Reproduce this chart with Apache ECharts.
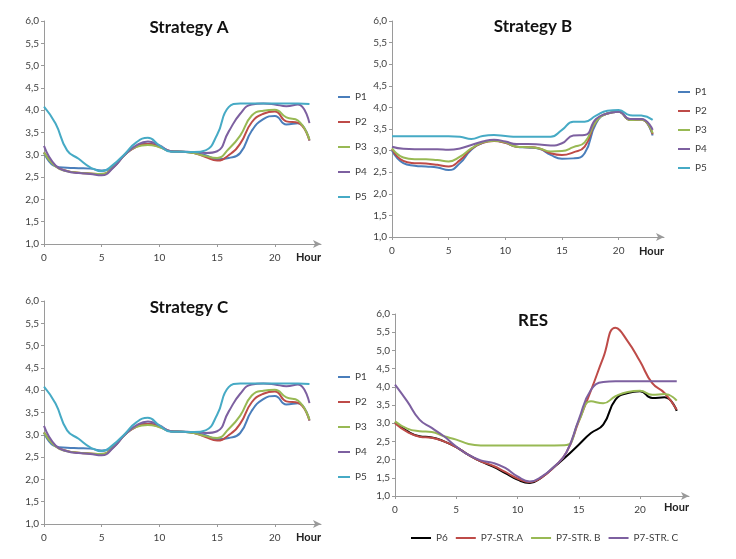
<!DOCTYPE html>
<html>
<head>
<meta charset="utf-8">
<script src="https://cdn.jsdelivr.net/npm/echarts@6/dist/echarts.min.js"></script>
<style>
  html, body { margin: 0; padding: 0; background: #fff; }
  #chart { width: 736px; height: 559px; }
</style>
</head>
<body>
<div id="chart"></div>
<script>
// hours of the day
const hours = [0, 1, 2, 3, 4, 5, 6, 7, 8, 9, 10, 11, 12, 13, 14, 15, 16, 17, 18, 19, 20, 21, 22, 23];
const xTicks = [0, 5, 10, 15, 20];

// Strategy A
const aP1 = [3.05, 2.74, 2.71, 2.70, 2.69, 2.65, 2.74, 3.00, 3.19, 3.25, 3.19, 3.08, 3.07, 3.04, 2.99, 2.90, 2.93, 3.04, 3.54, 3.80, 3.87, 3.68, 3.71, 3.32];
const aP2 = [3.05, 2.75, 2.64, 2.60, 2.58, 2.57, 2.72, 3.00, 3.18, 3.24, 3.18, 3.08, 3.07, 3.04, 2.95, 2.87, 2.99, 3.25, 3.73, 3.92, 3.97, 3.75, 3.72, 3.32];
const aP3 = [3.05, 2.74, 2.63, 2.60, 2.58, 2.57, 2.72, 3.00, 3.18, 3.22, 3.17, 3.08, 3.07, 3.04, 2.97, 2.93, 3.13, 3.43, 3.88, 3.99, 4.01, 3.84, 3.77, 3.34];
const aP4 = [3.20, 2.76, 2.63, 2.59, 2.57, 2.54, 2.71, 3.00, 3.21, 3.30, 3.21, 3.08, 3.07, 3.06, 3.04, 3.08, 3.52, 3.92, 4.13, 4.15, 4.13, 4.09, 4.13, 3.71];
const aP5 = [4.08, 3.70, 3.10, 2.91, 2.72, 2.63, 2.78, 3.02, 3.28, 3.38, 3.21, 3.07, 3.07, 3.06, 3.10, 3.45, 4.07, 4.15, 4.15, 4.15, 4.15, 4.15, 4.15, 4.14];

// Strategy B
const bP1 = [3.00, 2.71, 2.65, 2.63, 2.61, 2.55, 2.71, 3.02, 3.18, 3.23, 3.18, 3.09, 3.07, 3.04, 2.90, 2.81, 2.82, 2.94, 3.63, 3.86, 3.90, 3.71, 3.72, 3.35];
const bP2 = [3.04, 2.76, 2.71, 2.70, 2.67, 2.63, 2.78, 3.04, 3.18, 3.22, 3.18, 3.09, 3.08, 3.05, 2.94, 2.90, 2.96, 3.09, 3.67, 3.86, 3.90, 3.71, 3.72, 3.38];
const bP3 = [3.05, 2.84, 2.80, 2.80, 2.78, 2.75, 2.86, 3.05, 3.19, 3.23, 3.19, 3.09, 3.08, 3.05, 2.98, 2.99, 3.08, 3.19, 3.67, 3.86, 3.90, 3.71, 3.72, 3.40];
const bP4 = [3.09, 3.04, 3.03, 3.03, 3.03, 3.02, 3.05, 3.13, 3.21, 3.25, 3.21, 3.15, 3.15, 3.14, 3.12, 3.17, 3.35, 3.36, 3.73, 3.86, 3.90, 3.73, 3.73, 3.48];
const bP5 = [3.33, 3.33, 3.33, 3.33, 3.33, 3.33, 3.32, 3.27, 3.34, 3.36, 3.34, 3.32, 3.32, 3.32, 3.32, 3.48, 3.67, 3.67, 3.81, 3.92, 3.94, 3.82, 3.81, 3.71];

// Strategy C
const cP1 = [3.05, 2.74, 2.71, 2.70, 2.69, 2.65, 2.74, 3.00, 3.19, 3.25, 3.19, 3.08, 3.07, 3.04, 2.99, 2.90, 2.93, 3.04, 3.54, 3.80, 3.87, 3.68, 3.71, 3.32];
const cP2 = [3.05, 2.75, 2.64, 2.60, 2.58, 2.57, 2.72, 3.00, 3.18, 3.24, 3.18, 3.08, 3.07, 3.04, 2.95, 2.87, 2.99, 3.25, 3.73, 3.92, 3.97, 3.75, 3.72, 3.32];
const cP3 = [3.05, 2.74, 2.63, 2.60, 2.58, 2.57, 2.72, 3.00, 3.18, 3.22, 3.17, 3.08, 3.07, 3.04, 2.97, 2.93, 3.13, 3.43, 3.88, 3.99, 4.01, 3.84, 3.77, 3.34];
const cP4 = [3.20, 2.76, 2.63, 2.59, 2.57, 2.54, 2.71, 3.00, 3.21, 3.30, 3.21, 3.08, 3.07, 3.06, 3.04, 3.08, 3.52, 3.92, 4.13, 4.15, 4.13, 4.09, 4.13, 3.71];
const cP5 = [4.08, 3.70, 3.10, 2.91, 2.72, 2.63, 2.78, 3.02, 3.28, 3.38, 3.21, 3.07, 3.07, 3.06, 3.10, 3.45, 4.07, 4.15, 4.15, 4.15, 4.15, 4.15, 4.15, 4.14];

// RES
const resP6 = [3.03, 2.78, 2.64, 2.61, 2.50, 2.34, 2.13, 1.95, 1.81, 1.63, 1.45, 1.36, 1.52, 1.80, 2.09, 2.41, 2.73, 2.96, 3.65, 3.83, 3.88, 3.69, 3.71, 3.34];
const resStrA = [3.00, 2.76, 2.63, 2.60, 2.50, 2.34, 2.13, 1.95, 1.83, 1.66, 1.48, 1.38, 1.52, 1.80, 2.20, 3.05, 3.90, 4.80, 5.62, 5.25, 4.70, 4.10, 3.83, 3.37];
const resStrB = [3.05, 2.85, 2.78, 2.76, 2.64, 2.55, 2.43, 2.39, 2.39, 2.39, 2.39, 2.39, 2.39, 2.39, 2.40, 3.05, 3.60, 3.55, 3.74, 3.86, 3.89, 3.78, 3.80, 3.62];
const resStrC = [4.06, 3.60, 3.10, 2.87, 2.64, 2.36, 2.13, 1.98, 1.91, 1.77, 1.54, 1.40, 1.54, 1.81, 2.20, 3.10, 3.92, 4.13, 4.15, 4.15, 4.15, 4.15, 4.15, 4.15];

const pNames = ["P1", "P2", "P3", "P4", "P5"];
const resNames = ["P6", "P7-STR.A", "P7-STR. B", "P7-STR. C"];
const pColors = ["#4a7ebb", "#be4b48", "#98b954", "#7d60a0", "#46aac5"];
const resColors = ["#000000", "#be4b48", "#98b954", "#7d60a0"];

const FONT = "Lato";
const AXIS_COLOR = "#9a9a9a";
const TEXT_COLOR = "#404040";

function xAxis(gridIndex, namePad) {
  return {
    gridIndex: gridIndex,
    type: "value",
    min: 0,
    max: 24,
    interval: 5,
    name: "Hour",
    nameLocation: "end",
    nameGap: 0,
    nameTextStyle: {
      align: "right",
      verticalAlign: "top",
      fontWeight: "bold",
      fontSize: 11,
      fontFamily: FONT,
      color: "#222",
      padding: [namePad, 0, 0, 0]
    },
    axisLine: {
      onZero: false,
      symbol: ["none", "arrow"],
      symbolSize: [6, 8],
      lineStyle: { color: AXIS_COLOR }
    },
    axisTick: { show: true, length: 3, customValues: xTicks, lineStyle: { color: AXIS_COLOR } },
    axisLabel: { customValues: xTicks, margin: 9, fontSize: 10, fontFamily: FONT, color: TEXT_COLOR },
    splitLine: { show: false }
  };
}

function yAxis(gridIndex) {
  return {
    gridIndex: gridIndex,
    type: "value",
    min: 1,
    max: 6,
    interval: 0.5,
    axisLine: { show: true, lineStyle: { color: AXIS_COLOR } },
    axisTick: { show: true, length: 3, lineStyle: { color: AXIS_COLOR } },
    axisLabel: {
      margin: 5,
      fontSize: 10,
      fontFamily: FONT,
      color: TEXT_COLOR,
      formatter: function (v) {
        return v.toFixed(1).replace(".", ",");
      }
    },
    splitLine: { show: false }
  };
}

function lineSeries(name, values, color, idx) {
  return {
    name: name,
    type: "line",
    xAxisIndex: idx,
    yAxisIndex: idx,
    smooth: true,
    symbol: "none",
    lineStyle: { width: 2, color: color },
    itemStyle: { color: color },
    data: hours.map((h, i) => [h, values[i]])
  };
}

// legend marks drawn as short flat bars, like Excel's line keys
function legend(left, top, gap, names, orient, width) {
  return {
    orient: orient,
    left: left,
    top: top,
    itemGap: gap,
    itemWidth: width,
    itemHeight: 2,
    icon: "rect",
    data: names,
    textStyle: { fontSize: 10, fontFamily: FONT, color: TEXT_COLOR }
  };
}

function title(text, x, y) {
  return {
    text: text,
    left: x,
    top: y,
    textAlign: "center",
    padding: 0,
    textStyle: { fontSize: 17, fontWeight: "bold", fontFamily: FONT, color: "#111" }
  };
}

const seriesA = [aP1, aP2, aP3, aP4, aP5];
const seriesB = [bP1, bP2, bP3, bP4, bP5];
const seriesC = [cP1, cP2, cP3, cP4, cP5];
const seriesRes = [resP6, resStrA, resStrB, resStrC];

const series = [];
seriesA.forEach((v, i) => series.push(lineSeries(pNames[i], v, pColors[i], 0)));
seriesB.forEach((v, i) => series.push(lineSeries(pNames[i], v, pColors[i], 1)));
seriesC.forEach((v, i) => series.push(lineSeries(pNames[i], v, pColors[i], 2)));
seriesRes.forEach((v, i) => series.push(lineSeries(resNames[i], v, resColors[i], 3)));

const option = {
  animation: false,
  backgroundColor: "#fff",
  title: [
    title("Strategy A", 189, 19),
    title("Strategy B", 533, 18),
    title("Strategy C", 189, 299),
    title("RES", 533, 312)
  ],
  legend: [
    legend(333, 87, 15, pNames, "vertical", 12),
    legend(673, 82, 9, pNames, "vertical", 12),
    legend(333, 367, 15, pNames, "vertical", 12),
    legend(406, 528, 8, resNames, "horizontal", 20)
  ],
  grid: [
    { left: 44, top: 21, width: 277, height: 223 },
    { left: 392, top: 21, width: 272, height: 216 },
    { left: 44, top: 301, width: 277, height: 223 },
    { left: 395, top: 314, width: 294, height: 182 }
  ],
  xAxis: [xAxis(0, 8), xAxis(1, 9), xAxis(2, 8), xAxis(3, 6)],
  yAxis: [yAxis(0), yAxis(1), yAxis(2), yAxis(3)],
  series: series
};

const chart = echarts.init(document.getElementById("chart"));
chart.setOption(option);
</script>
</body>
</html>
